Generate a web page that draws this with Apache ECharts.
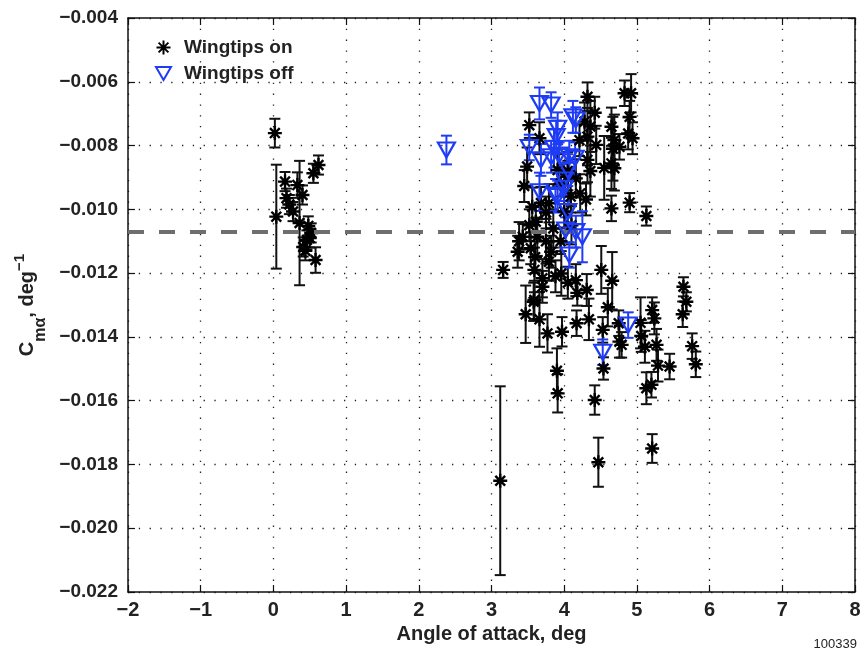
<!DOCTYPE html>
<html><head><meta charset="utf-8">
<script src="https://cdn.jsdelivr.net/npm/echarts@6/dist/echarts.min.js"></script>
<style>html,body{margin:0;padding:0;background:#fff}#c{width:865px;height:662px}</style>
</head><body><div id="c"></div>
<script>
// Wingtips on: angle of attack (deg), Cm_alpha, error half-height
const onX = [0.02,0.04,0.16,0.18,0.22,0.27,0.33,0.40,0.36,0.48,0.52,0.46,0.41,0.50,0.55,0.62,0.58,0.44,
  3.16,3.12,3.36,3.43,3.38,3.47,3.58,3.66,3.77,3.97,3.90,3.91,3.96,4.16,4.18,4.31,4.17,4.34,4.51,4.66,4.60,4.53,4.54,
  4.75,4.76,4.79,5.05,5.06,5.11,5.21,5.24,5.27,5.29,5.45,5.13,5.20,4.42,4.47,5.21,5.64,5.68,5.63,5.76,5.81,
  3.52,3.66,3.49,3.45,3.56,4.32,4.28,4.42,4.32,4.44,4.21,4.32,4.16,4.30,4.65,4.69,4.67,4.76,4.65,4.69,4.65,
  4.83,4.92,4.90,4.88,4.94,4.90,5.13,3.54,3.61,3.63,3.59,3.70,3.82,3.79,3.70,3.59,4.00,3.85,3.75,3.95,4.05,3.88,
  3.68,3.52,3.95,4.05,4.22,4.55,3.91,4.05,3.79,4.09,3.60,3.75,4.10,4.36,4.36];
const onY = [-0.00761,-0.01023,-0.00913,-0.00965,-0.00985,-0.01007,-0.00924,-0.00955,-0.01043,-0.01052,-0.01074,-0.01096,-0.01118,-0.01090,-0.00887,-0.00861,-0.01159,-0.01130,
  -0.01190,-0.01851,-0.01133,-0.01086,-0.01100,-0.01329,-0.01290,-0.01345,-0.01389,-0.01384,-0.01506,-0.01577,-0.01201,-0.01222,-0.01262,-0.01253,-0.01357,-0.01345,-0.01190,-0.01224,-0.01307,-0.01378,-0.01499,
  -0.01357,-0.01415,-0.01425,-0.01356,-0.01397,-0.01431,-0.01316,-0.01342,-0.01425,-0.01490,-0.01493,-0.01561,-0.01550,-0.01598,-0.01793,-0.01750,-0.01243,-0.01290,-0.01329,-0.01429,-0.01486,
  -0.00736,-0.00777,-0.00866,-0.00927,-0.00992,-0.00647,-0.00725,-0.00697,-0.00772,-0.00798,-0.00783,-0.00845,-0.00903,-0.00969,-0.00741,-0.00783,-0.00810,-0.00804,-0.00856,-0.00871,-0.00997,
  -0.00636,-0.00636,-0.00710,-0.00762,-0.00777,-0.00979,-0.01021,-0.01122,-0.01039,-0.01086,-0.01190,-0.01216,-0.01133,-0.01164,-0.01243,-0.01284,-0.01007,-0.01060,-0.01010,-0.01100,-0.01230,-0.01210,
  -0.00980,-0.01050,-0.00920,-0.00880,-0.00950,-0.00870,-0.00877,-0.00898,-0.00981,-0.00960,-0.01150,-0.01100,-0.01050,-0.00740,-0.00880];
const onErr = [0.00045,0.00163,0.0003,0.0003,0.0003,0.0003,0.0004,0.0003,0.00195,0.0003,0.0003,0.0003,0.0003,0.0003,0.0003,0.0003,0.0004,0.0003,
  0.00025,0.00296,0.0005,0.0004,0.0006,0.0009,0.0006,0.00086,0.0006,0.00046,0.0007,0.0006,0.0007,0.0005,0.0004,0.0005,0.0004,0.00065,0.00075,0.0009,0.0006,0.0004,0.00035,
  0.0004,0.0005,0.0004,0.0008,0.0005,0.0005,0.0004,0.0005,0.0005,0.0005,0.0004,0.0005,0.0004,0.00046,0.00077,0.00045,0.0003,0.0003,0.0004,0.0004,0.0004,
  0.0004,0.0005,0.0006,0.0005,0.0006,0.00045,0.0006,0.0005,0.0009,0.0006,0.0005,0.0007,0.0006,0.0005,0.0006,0.0008,0.0010,0.0004,0.0008,0.0007,0.0004,
  0.0004,0.0006,0.0005,0.0005,0.0005,0.0003,0.0003,0.0005,0.0005,0.0006,0.0007,0.0006,0.0005,0.0006,0.0005,0.0006,0.0005,0.0006,0.0005,0.0004,0.0005,0.0005,
  0.0005,0.0005,0.0004,0.0006,0.0006,0.0010,0.0005,0.0005,0.0006,0.0005,0.0005,0.0007,0.0006,0.0008,0.0008];
// Wingtips off
const offX = [2.38,3.66,3.82,4.12,4.16,3.91,3.89,3.52,3.86,3.68,3.82,3.93,4.07,4.15,4.05,4.00,3.66,3.88,4.00,3.91,4.05,4.02,4.16,4.25,4.07,4.53,4.88];
const offY = [-0.00814,-0.00668,-0.00673,-0.00710,-0.00720,-0.00746,-0.00772,-0.00806,-0.00809,-0.00845,-0.00835,-0.00830,-0.00835,-0.00840,-0.00877,-0.00908,-0.00945,-0.00955,-0.00934,-0.00960,-0.01007,-0.01065,-0.01070,-0.01086,-0.01143,-0.01448,-0.01363];
const offErr = [0.00045,0.0005,0.0004,0.0005,0.0004,0.0005,0.0005,0.0004,0.0006,0.0005,0.0005,0.0004,0.0005,0.0005,0.0005,0.0005,0.0006,0.0005,0.0004,0.0005,0.0005,0.0004,0.0005,0.0008,0.0004,0.0004,0.0004];
const refLine = -0.0107;
const xTicks = {min:-2, max:8, interval:1};
const yTicks = {min:-0.022, max:-0.004, interval:0.002};

const BLUE = '#1f3cf5';
const FONT = 'Liberation Sans, Arial, sans-serif';
const star = 'path://M5,0L5,10M0,5L10,5M1.5,1.5L8.5,8.5M1.5,8.5L8.5,1.5';
const triDown = 'path://M0,0L10,0L5,8.66Z';

function errData(xs, ys, es){ return xs.map((x,i)=>[x, ys[i]-es[i], ys[i]+es[i]]); }
function ptData(xs, ys){ return xs.map((x,i)=>[x, ys[i]]); }
function errRender(color){
  return function(params, api){
    const x = api.value(0);
    const a = api.coord([x, api.value(1)]), b = api.coord([x, api.value(2)]);
    const w = 5.5, st = {stroke: color, lineWidth: 2};
    return {type:'group', children:[
      {type:'line', shape:{x1:a[0],y1:a[1],x2:b[0],y2:b[1]}, style:st},
      {type:'line', shape:{x1:a[0]-w,y1:a[1],x2:a[0]+w,y2:a[1]}, style:st},
      {type:'line', shape:{x1:b[0]-w,y1:b[1],x2:b[0]+w,y2:b[1]}, style:st}
    ]};
  };
}
const minus = v => (v < 0 ? '\u2212' : '') + Math.abs(v);
const chart = echarts.init(document.getElementById('c'), null, {renderer:'canvas'});
const axisLine = {show:true, onZero:false, lineStyle:{color:'#111', width:1.5}};
const tick = {show:true, inside:true, length:7, lineStyle:{color:'#111', width:1.2}};
const split = {show:true, lineStyle:{color:'#222', width:1.3, type:[1.3,9.5]}};
chart.setOption({
  animation:false,
  backgroundColor:'#fff',
  grid:{left:128, right:10, top:18, bottom:70},
  legend:{
    orient:'vertical', left:150, top:33, itemGap:7, itemWidth:15, itemHeight:14,
    data:['Wingtips on','Wingtips off'],
    textStyle:{fontFamily:FONT, fontWeight:'bold', fontSize:19, color:'#222', padding:[0,0,0,8]}
  },
  xAxis:[{
    type:'value', min:xTicks.min, max:xTicks.max, interval:xTicks.interval,
    name:'Angle of attack, deg', nameLocation:'middle', nameGap:32,
    nameTextStyle:{fontFamily:FONT, fontWeight:'bold', fontSize:20, color:'#222'},
    axisLine, axisTick:tick, splitLine:split,
    axisLabel:{formatter:minus, fontFamily:FONT, fontWeight:'bold', fontSize:20, color:'#222', margin:8}
  },{
    type:'value', position:'top', min:xTicks.min, max:xTicks.max, interval:xTicks.interval,
    axisLine, axisTick:tick, splitLine:{show:false}, axisLabel:{show:false}
  }],
  yAxis:[{
    type:'value', min:yTicks.min, max:yTicks.max, interval:yTicks.interval,
    name:'{a|C}{s|m\u03b1}{a|, deg}{p|\u22121}', nameLocation:'middle', nameGap:82, nameRotate:90,
    nameTextStyle:{rich:{
      a:{fontFamily:FONT, fontWeight:'bold', fontSize:20, color:'#222', lineHeight:30, verticalAlign:'middle'},
      s:{fontFamily:FONT, fontWeight:'bold', fontSize:16, color:'#222', lineHeight:30, verticalAlign:'bottom', padding:[0,0,-6,0]},
      p:{fontFamily:FONT, fontWeight:'bold', fontSize:15, color:'#222', lineHeight:30, verticalAlign:'top', padding:[0,0,10,0]}
    }},
    axisLine, axisTick:tick, splitLine:split,
    axisLabel:{formatter:v=>(v < 0 ? '\u2212' : '') + Math.abs(v).toFixed(3),
      fontFamily:FONT, fontWeight:'bold', fontSize:19, color:'#222', margin:10}
  },{
    type:'value', position:'right', min:yTicks.min, max:yTicks.max, interval:yTicks.interval,
    axisLine, axisTick:tick, splitLine:{show:false}, axisLabel:{show:false}
  }],
  series:[
    {type:'custom', name:'on-err', renderItem:errRender('#111'), data:errData(onX,onY,onErr), encode:{x:0,y:[1,2]}, z:2, silent:true},
    {type:'custom', name:'off-err', renderItem:errRender(BLUE), data:errData(offX,offY,offErr), encode:{x:0,y:[1,2]}, z:3, silent:true},
    {type:'scatter', name:'Wingtips on', data:ptData(onX,onY), symbol:star, symbolSize:14, z:4,
      itemStyle:{color:'rgba(0,0,0,0)', borderColor:'#000', borderWidth:2.4, opacity:1},
      markLine:{silent:true, symbol:'none', precision:6, label:{show:false}, data:[{yAxis:refLine}],
        lineStyle:{color:'#6e6e6e', width:4, type:[16,15]}}},
    {type:'scatter', name:'Wingtips off', data:ptData(offX,offY), symbol:triDown, symbolSize:[17,15], z:5,
      itemStyle:{color:'rgba(0,0,0,0)', borderColor:BLUE, borderWidth:2.2, opacity:1}}
  ],
  graphic:[{type:'text', right:8, top:638, style:{text:'100339', fontFamily:FONT, fontSize:13, fill:'#222'}}]
});
</script></body></html>
